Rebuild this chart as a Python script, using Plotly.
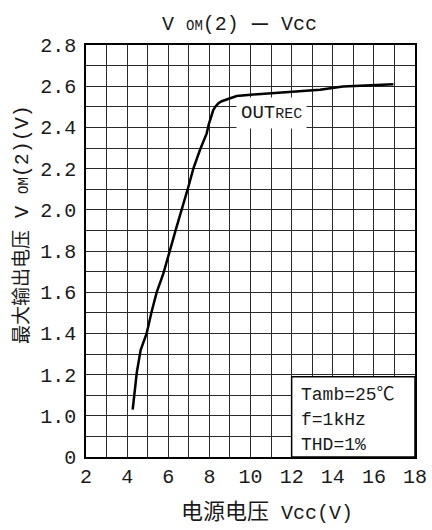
import plotly.graph_objects as go

# Data
vcc = [4.27, 4.33, 4.39, 4.47, 4.66, 4.95, 5.19, 5.44, 5.76, 6.05, 6.41, 6.98, 7.22, 7.54,
       7.87, 7.97, 8.07, 8.19, 8.3, 8.44, 8.6, 9.0, 9.33, 10.14, 11.03, 12.25, 13.38, 14.5, 15.97, 16.95]
vom = [1.03, 1.08, 1.14, 1.21, 1.32, 1.40, 1.505, 1.60, 1.69, 1.797, 1.918, 2.112, 2.20, 2.29,
       2.371, 2.415, 2.45, 2.484, 2.502, 2.517, 2.527, 2.541, 2.552, 2.560, 2.567, 2.577, 2.583, 2.598, 2.606, 2.609]

x_tickvals = [2, 4, 6, 8, 10, 12, 14, 16, 18]
x_ticktext = ["2", "4", "6", "8", "10", "12", "14", "16", "18"]
y_tickvals = [0.8, 1.0, 1.2, 1.4, 1.6, 1.8, 2.0, 2.2, 2.4, 2.6, 2.8]
y_ticktext = ["0", "1.0", "1.2", "1.4", "1.6", "1.8", "2.0", "2.2", "2.4", "2.6", "2.8"]

conditions = ["Tamb=25℃", "f=1kHz", "THD=1%"]

FONT = "Liberation Mono, DejaVu Sans Mono, Noto Sans CJK SC"
GRID = "#2a2a2a"
TXT = "#1a1a1a"

W, H = 432, 530
ML, MR, MT, MB = 86, 17, 45, 73
PW, PH = W - ML - MR, H - MT - MB


def px(x):
    return (x - ML) / PW


def py(y):
    return (H - MB - y) / PH


fig = go.Figure()
fig.add_trace(go.Scatter(x=vcc, y=vom, mode="lines",
                         line=dict(color="black", width=2.5), showlegend=False))

axis_common = dict(showline=True, linecolor="black", linewidth=1.5, mirror=True,
                   showgrid=True, gridcolor=GRID, gridwidth=1.4, zeroline=False,
                   ticks="", tickfont=dict(family=FONT, size=20, color=TXT))

fig.update_xaxes(range=[2, 18], tickmode="array", tickvals=x_tickvals, ticktext=x_ticktext,
                 minor=dict(tick0=2, dtick=1, showgrid=True, gridcolor=GRID, gridwidth=1.4),
                 **axis_common)
fig.update_yaxes(range=[0.8, 2.8], tickmode="array", tickvals=y_tickvals, ticktext=y_ticktext,
                 minor=dict(tick0=0.8, dtick=0.1, showgrid=True, gridcolor=GRID, gridwidth=1.4),
                 ticklabelstandoff=4, **axis_common)

# conditions box
fig.add_shape(type="rect", xref="x", yref="y", x0=12, x1=18, y0=0.8, y1=1.19,
              fillcolor="white", line=dict(color="black", width=1.5), layer="above")
for i, t in enumerate(conditions):
    fig.add_annotation(x=12.35, y=1.1 - i * 0.12, xref="x", yref="y", text=t,
                       showarrow=False, xanchor="left", yanchor="middle",
                       font=dict(family=FONT, size=18, color=TXT))

# OUTREC label
fig.add_annotation(x=11.0, y=2.468, xref="x", yref="y",
                   text="OUT<span style='font-size:15px'>REC</span>",
                   showarrow=False, bgcolor="white", borderpad=4,
                   xanchor="center", yanchor="middle",
                   font=dict(family=FONT, size=19, color=TXT))

# Title
fig.add_annotation(x=px(239), y=py(22), xref="paper", yref="paper",
                   xanchor="center", yanchor="middle",
                   text="V <span style='font-size:14px'>OM</span>(2) "
                        "<span style='font-family:Noto Sans CJK SC;font-weight:bold'>—</span> Vcc",
                   showarrow=False, font=dict(family=FONT, size=20, color=TXT))

# Y axis title
fig.add_annotation(x=px(22), y=py(225), xref="paper", yref="paper", textangle=-90,
                   xanchor="center", yanchor="middle",
                   text="<span style='font-size:19px'>最大输出电压</span> V <span style='font-size:14px'>OM</span>(2)(V)",
                   showarrow=False, font=dict(family=FONT, size=20, color=TXT))

# X axis title
fig.add_annotation(x=px(267), y=py(513), xref="paper", yref="paper",
                   xanchor="center", yanchor="middle",
                   text="<span style='font-size:22px'>电源电压</span> Vcc(V)",
                   showarrow=False, font=dict(family=FONT, size=20, color=TXT))

fig.update_layout(width=W, height=H, autosize=False,
                  margin=dict(l=ML, r=MR, t=MT, b=MB, autoexpand=False),
                  plot_bgcolor="white", paper_bgcolor="white")

post = ("document.body.style.margin='0';document.body.style.padding='0';"
        "document.body.style.overflow='hidden';"
        "var gd=document.getElementById('{plot_id}');"
        "Plotly.relayout(gd,{width:%d,height:%d});" % (W, H))

fig.write_html("out.html", post_script=post, config={"displayModeBar": False})
